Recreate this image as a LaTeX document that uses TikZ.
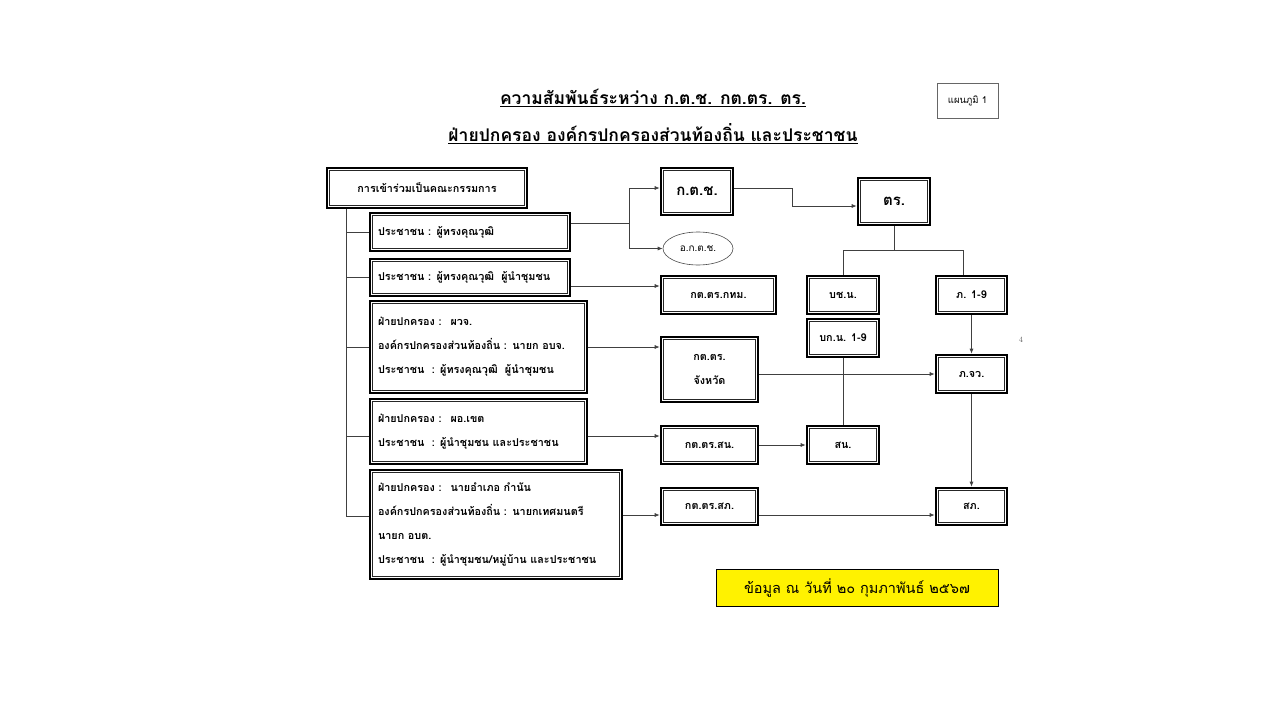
\documentclass[tikz,border=0pt]{standalone}
\usepackage{fontspec}
\newfontfamily\thai[Script=Thai]{Loma}
\usetikzlibrary{arrows.meta,shapes.geometric}
\begin{document}
\begin{tikzpicture}[x=1pt,y=-1pt,
  dbox/.style={draw=black,line width=2.6pt,fill=white,inner sep=0pt,align=center,
    font=\thai\bfseries\fontsize{10.8}{24}\selectfont},
  lbox/.style={dbox,align=left,inner xsep=8pt},
  inbox/.style={draw=black!85,line width=0.5pt},
  conn/.style={draw=black!75,line width=0.7pt},
  arr/.style={conn,-{Latex[length=5pt,width=4pt]}}]
\useasboundingbox[fill=white] (0,0) rectangle (1280,720);
% titles
\node[font=\thai\bfseries\fontsize{17.5}{20}\selectfont] (t1) at (653,98) {\underline{ความสัมพันธ์ระหว่าง ก.ต.ช. กต.ตร. ตร.}};
\node[font=\thai\bfseries\fontsize{17.5}{20}\selectfont] (t2) at (653,134) {\underline{ฝ่ายปกครอง องค์กรปกครองส่วนท้องถิ่น และประชาชน}};
\node[draw=black!60,line width=0.6pt,minimum width=61pt,minimum height=35pt,inner sep=0pt,font=\thai\fontsize{9.5}{10}\selectfont] (plan) at (967.5,100.5) {แผนภูมิ 1};
% left boxes
\node[dbox,minimum width=200pt,minimum height=40pt] (b0) at (427,188) {การเข้าร่วมเป็นคณะกรรมการ};
\node[lbox,text width=184pt,minimum height=38pt] (b1) at (470,232) {ประชาชน : ผู้ทรงคุณวุฒิ};
\node[lbox,text width=184pt,minimum height=37pt] (b2) at (470,277.5) {ประชาชน : ผู้ทรงคุณวุฒิ~ ผู้นำชุมชน};
\node[lbox,text width=201pt,minimum height=92pt] (b3) at (478.5,347) {ฝ่ายปกครอง :~ ผวจ.\\องค์กรปกครองส่วนท้องถิ่น : นายก อบจ.\\ประชาชน~ : ผู้ทรงคุณวุฒิ~ ผู้นำชุมชน};
\node[lbox,text width=201pt,minimum height=65pt] (b4) at (478.5,431.5) {ฝ่ายปกครอง :~ ผอ.เขต\\ประชาชน~ : ผู้นำชุมชน และประชาชน};
\node[lbox,text width=236pt,minimum height=109pt] (b5) at (496,524.5) {ฝ่ายปกครอง :~ นายอำเภอ กำนัน\\องค์กรปกครองส่วนท้องถิ่น : นายกเทศมนตรี\\นายก อบต.\\ประชาชน~ : ผู้นำชุมชน/หมู่บ้าน และประชาชน};
% right boxes
\node[dbox,minimum width=72pt,minimum height=47pt,font=\thai\bfseries\fontsize{15}{18}\selectfont] (k) at (697,191.5) {ก.ต.ช.};
\node[draw=black!70,line width=0.6pt,ellipse,minimum width=70pt,minimum height=33pt,inner sep=0pt,font=\thai\fontsize{10}{12}\selectfont] (ok) at (698,248.5) {อ.ก.ต.ช.};
\node[dbox,minimum width=72pt,minimum height=47pt,font=\thai\bfseries\fontsize{15}{18}\selectfont] (tr) at (894,201.5) {ตร.};
\node[dbox,minimum width=115pt,minimum height=38pt] (bkk) at (718.5,295) {กต.ตร.กทม.};
\node[dbox,minimum width=72pt,minimum height=38pt] (bcn) at (843,295) {บช.น.};
\node[dbox,minimum width=71pt,minimum height=38pt] (p19) at (971.5,295) {ภ. 1-9};
\node[dbox,minimum width=72pt,minimum height=38pt] (bkn) at (843,338) {บก.น. 1-9};
\node[dbox,minimum width=97pt,minimum height=65pt] (ktj) at (709.5,369.5) {กต.ตร.\\จังหวัด};
\node[dbox,minimum width=71pt,minimum height=38pt] (pjw) at (971.5,374) {ภ.จว.};
\node[dbox,minimum width=97pt,minimum height=38pt] (ksn) at (709.5,445) {กต.ตร.สน.};
\node[dbox,minimum width=72pt,minimum height=38pt] (sn) at (843,445) {สน.};
\node[dbox,minimum width=97pt,minimum height=37pt] (ksk) at (709.5,506.5) {กต.ตร.สภ.};
\node[dbox,minimum width=71pt,minimum height=37pt] (sk) at (971.5,506.5) {สภ.};
\node[draw=black,line width=0.7pt,fill=yellow,minimum width=282pt,minimum height=37pt,inner sep=0pt,font=\thai\fontsize{14.5}{16}\selectfont] (date) at (857,587.5) {ข้อมูล ณ วันที่ ๒๐ กุมภาพันธ์ ๒๕๖๗};
\node[font=\fontsize{8}{9}\selectfont,text=black!60] (mark) at (1021,340) {4};
% inner frames
\foreach \n in {b0,b1,b2,b3,b4,b5,k,tr,bkk,bcn,p19,bkn,ktj,pjw,ksn,sn,ksk,sk}
  \draw[inbox] ([shift={(3.6pt,3.6pt)}]\n.south west) rectangle ([shift={(-3.6pt,-3.6pt)}]\n.north east);
% junction coordinates
\coordinate (ttop) at (b0.south -| 346,0);
\coordinate (tbot) at (346,516);
\coordinate (j1) at (629,223);
\coordinate (j1t) at (629,188);
\coordinate (j1b) at (629,248.5);
\coordinate (j2a) at (792,188);
\coordinate (j2b) at (792,206);
\coordinate (j3) at (894,250);
\coordinate (j3l) at (843,250);
\coordinate (j3r) at (963,250);
% left trunk
\draw[conn] (ttop) -- (tbot);
\draw[conn] (346,232) -- (b1.west);
\draw[conn] (346,277.5) -- (b2.west);
\draw[conn] (346,347) -- (b3.west);
\draw[conn] (346,436) -- (b4.west |- 0,436);
\draw[conn] (tbot) -- (b5.west |- 0,516);
% connectors
\draw[conn] (b1.east |- j1) -- (j1);
\draw[conn] (j1t) -- (j1b);
\draw[arr] (j1t) -- (k.west |- j1t);
\draw[arr] (j1b) -- (ok.west);
\draw[conn] (k.east |- j2a) -- (j2a) -- (j2b);
\draw[arr] (j2b) -- (tr.west |- j2b);
\draw[conn] (tr.south) -- (j3);
\draw[conn] (j3l) -- (j3r);
\draw[conn] (j3l) -- (bcn.north);
\draw[conn] (j3r) -- (p19.north -| j3r);
\draw[arr] (b2.east |- 0,286) -- (bkk.west |- 0,286);
\draw[arr] (b3.east |- 0,347) -- (ktj.west |- 0,347);
\draw[arr] (ktj.east |- 0,374) -- (pjw.west);
\draw[conn] (bkn.south) -- (sn.north);
\draw[arr] (p19.south) -- (pjw.north);
\draw[arr] (b4.east |- 0,436) -- (ksn.west |- 0,436);
\draw[arr] (ksn.east) -- (sn.west);
\draw[arr] (pjw.south) -- (sk.north);
\draw[arr] (b5.east |- 0,515) -- (ksk.west |- 0,515);
\draw[arr] (ksk.east |- 0,515) -- (sk.west |- 0,515);
\end{tikzpicture}
\end{document}
